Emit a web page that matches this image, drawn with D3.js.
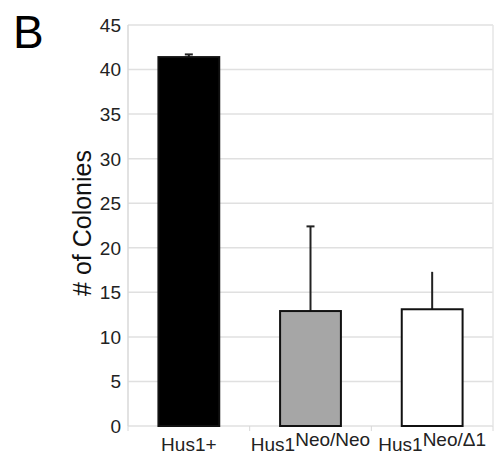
<!DOCTYPE html>
<html>
<head>
<meta charset="utf-8">
<script src="https://cdn.jsdelivr.net/npm/d3@7"></script>
<style>
  body { margin: 0; background: #fff; }
  text { font-family: "Liberation Sans", Arial, sans-serif; }
</style>
</head>
<body>
<div id="chart"></div>
<script>
// values
var groups = ["Hus1+", "Hus1 Neo/Neo", "Hus1 Neo/D1"];
var labelBase = ["Hus1+", "Hus1", "Hus1"];
var labelSup = ["", "Neo/Neo", "Neo/\u03941"];
var means = [41.4, 12.9, 13.1];
var errs = [0.3, 9.5, 4.2];
var fills = ["#000000", "#a6a6a6", "#ffffff"];
var yTicks = [0, 5, 10, 15, 20, 25, 30, 35, 40, 45];

var width = 497, height = 462;
var margin = {top: 25, right: 4, bottom: 36, left: 128};

var svg = d3.select("#chart").append("svg")
    .attr("width", width)
    .attr("height", height);

var x = d3.scaleBand()
    .domain(groups)
    .range([margin.left, width - margin.right])
    .paddingInner(0.5)
    .paddingOuter(0.25);

var y = d3.scaleLinear()
    .domain([0, 45])
    .range([height - margin.bottom, margin.top]);

// horizontal grid
svg.append("g")
    .selectAll("line")
    .data(yTicks)
    .enter().append("line")
    .attr("x1", margin.left)
    .attr("x2", width - margin.right)
    .attr("y1", function(d) { return y(d); })
    .attr("y2", function(d) { return y(d); })
    .attr("stroke", "#e0e0e0")
    .attr("stroke-width", 1.5);

// frame lines
svg.append("line")
    .attr("x1", margin.left).attr("x2", margin.left)
    .attr("y1", y(45)).attr("y2", y(0))
    .attr("stroke", "#d8d8d8").attr("stroke-width", 1.5);
svg.append("line")
    .attr("x1", width - margin.right).attr("x2", width - margin.right)
    .attr("y1", y(45)).attr("y2", y(0))
    .attr("stroke", "#e6e6e6").attr("stroke-width", 1.5);

// small ticks at category boundaries
var step = x.step();
svg.append("g")
    .selectAll("line")
    .data(d3.range(groups.length + 1))
    .enter().append("line")
    .attr("x1", function(i) { return margin.left + i * step; })
    .attr("x2", function(i) { return margin.left + i * step; })
    .attr("y1", y(0))
    .attr("y2", y(0) + 5)
    .attr("stroke", "#d8d8d8");

// y axis labels
svg.append("g")
    .selectAll("text")
    .data(yTicks)
    .enter().append("text")
    .attr("x", 121)
    .attr("y", function(d) { return y(d); })
    .attr("dy", "0.36em")
    .attr("text-anchor", "end")
    .style("font-size", "19px")
    .style("fill", "#222")
    .text(function(d) { return d; });

// error bars
var eb = svg.append("g");
groups.forEach(function(g, i) {
  var cx = x(g) + x.bandwidth() / 2;
  eb.append("line")
    .attr("x1", cx).attr("x2", cx)
    .attr("y1", y(means[i])).attr("y2", y(means[i] + errs[i]))
    .attr("stroke", "#222").attr("stroke-width", 2);
  if (i < 2) {
    eb.append("line")
      .attr("x1", cx - 4).attr("x2", cx + 4)
      .attr("y1", y(means[i] + errs[i])).attr("y2", y(means[i] + errs[i]))
      .attr("stroke", "#222").attr("stroke-width", 2);
  }
});

// bars
svg.append("g")
    .selectAll("rect")
    .data(groups)
    .enter().append("rect")
    .attr("x", function(d) { return x(d); })
    .attr("width", x.bandwidth())
    .attr("y", function(d, i) { return y(means[i]); })
    .attr("height", function(d, i) { return y(0) - y(means[i]); })
    .attr("fill", function(d, i) { return fills[i]; })
    .attr("stroke", "#111")
    .attr("stroke-width", 2);

// x labels
var xl = svg.append("g")
    .selectAll("text")
    .data(groups)
    .enter().append("text")
    .attr("x", function(d) { return x(d) + x.bandwidth() / 2; })
    .attr("y", 451)
    .attr("text-anchor", "middle")
    .style("font-size", "19px")
    .style("fill", "#222");
xl.append("tspan").text(function(d, i) { return labelBase[i]; });
xl.append("tspan")
    .attr("dy", -5)
    .text(function(d, i) { return labelSup[i]; });

// y title
svg.append("text")
    .attr("transform", "translate(91,223) rotate(-90)")
    .attr("text-anchor", "middle")
    .style("font-size", "25px")
    .style("fill", "#111")
    .text("# of Colonies");

// panel letter
svg.append("text")
    .attr("x", 13)
    .attr("y", 48)
    .style("font-size", "46px")
    .style("fill", "#000")
    .text("B");
</script>
</body>
</html>
